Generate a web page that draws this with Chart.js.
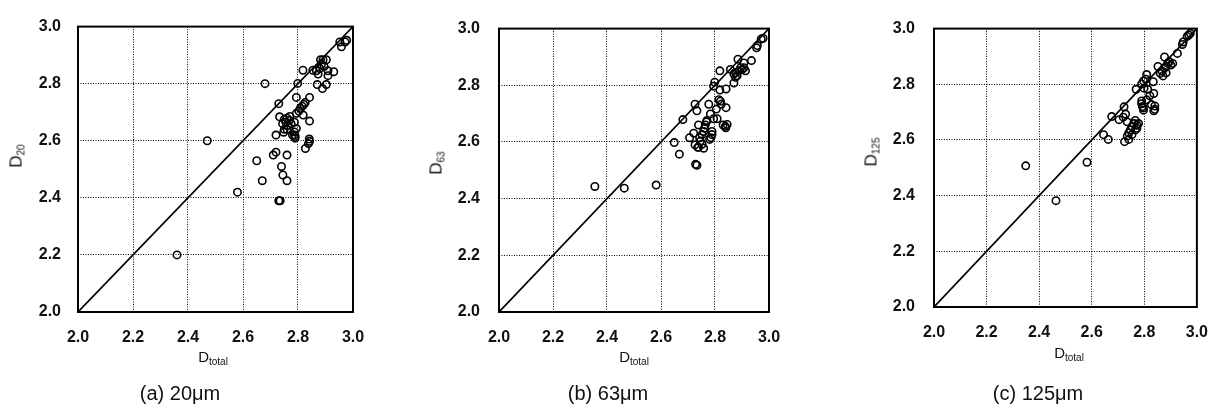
<!DOCTYPE html>
<html>
<head>
<meta charset="utf-8">
<script src="https://cdn.jsdelivr.net/npm/chart.js@4"></script>
<style>
  html, body { margin: 0; padding: 0; background: #fff; }
  #wrap { position: relative; width: 1224px; height: 414px; overflow: hidden; font-family: "Liberation Sans", Arial, sans-serif; color: #111; }
  .panel { position: absolute; top: 0; }
  .lbl { position: absolute; white-space: nowrap; transform: translate(-50%, -50%); line-height: 1; }
  .ytitle { font-size: 17px; transform: translate(-50%, -50%) rotate(-90deg); }
  .xtitle { font-size: 15px; }
  .lbl sub { font-size: 10px; vertical-align: -3px; }
  .caption { font-family: "Liberation Sans Narrow", "Liberation Sans", Arial, sans-serif; font-size: 20px; }
</style>
</head>
<body>
<div id="wrap">
  <div class="panel" style="left:0px"><canvas id="chart-a" width="400" height="350"></canvas></div>
  <div class="panel" style="left:410px"><canvas id="chart-b" width="400" height="350"></canvas></div>
  <div class="panel" style="left:820px"><canvas id="chart-c" width="404" height="350"></canvas></div>

  <div class="lbl ytitle" style="left:17px;top:156px">D<sub>20</sub></div>
  <div class="lbl xtitle" style="left:213px;top:358px">D<sub>total</sub></div>
  <div class="lbl caption" style="left:180px;top:393px">(a) 20μm</div>

  <div class="lbl ytitle" style="left:437px;top:163px">D<sub>63</sub></div>
  <div class="lbl xtitle" style="left:634px;top:358px">D<sub>total</sub></div>
  <div class="lbl caption" style="left:608px;top:393px">(b) 63μm</div>

  <div class="lbl ytitle" style="left:872px;top:152px">D<sub>125</sub></div>
  <div class="lbl xtitle" style="left:1069px;top:354px">D<sub>total</sub></div>
  <div class="lbl caption" style="left:1038px;top:393px">(c) 125μm</div>
</div>
<script>
// ─── Data ────────────────────────────────────────────────────────────────────
const TICKS = [2.0, 2.2, 2.4, 2.6, 2.8, 3.0];

// (a) 20um
const A_DTOTAL = [2.36, 2.47, 2.58, 2.68, 2.65, 2.67, 2.71, 2.72, 2.73, 2.735, 2.74, 2.745, 2.76, 2.76,
  2.73, 2.72, 2.744, 2.75, 2.756, 2.763, 2.748, 2.769, 2.775, 2.787, 2.733, 2.76, 2.77, 2.787, 2.787,
  2.789, 2.794, 2.794, 2.803, 2.808, 2.815, 2.821, 2.826, 2.819, 2.842, 2.842, 2.818, 2.794, 2.799,
  2.827, 2.838, 2.841, 2.842, 2.854, 2.867, 2.873, 2.879, 2.882, 2.891, 2.903, 2.87, 2.889, 2.903,
  2.909, 2.909, 2.93, 2.885, 2.895, 2.952, 2.958, 2.977, 2.971, 2.78, 2.79, 2.75, 2.76];
const A_D20 = [2.20, 2.60, 2.42, 2.80, 2.53, 2.46, 2.55, 2.56, 2.39, 2.39, 2.51, 2.48, 2.46, 2.55,
  2.73, 2.62, 2.66, 2.64, 2.665, 2.654, 2.63, 2.671, 2.66, 2.665, 2.684, 2.679, 2.685, 2.631, 2.62,
  2.609, 2.643, 2.696, 2.704, 2.713, 2.721, 2.727, 2.734, 2.69, 2.752, 2.669, 2.847, 2.752, 2.801,
  2.573, 2.59, 2.606, 2.598, 2.847, 2.845, 2.834, 2.853, 2.884, 2.884, 2.884, 2.797, 2.783, 2.797,
  2.845, 2.828, 2.842, 2.867, 2.86, 2.946, 2.929, 2.952, 2.946, 2.62, 2.615, 2.675, 2.64];

// (b) 63um
const B_DTOTAL = [2.355, 2.464, 2.582, 2.649, 2.668, 2.681, 2.706, 2.721, 2.726, 2.733, 2.726, 2.728,
  2.733, 2.739, 2.736, 2.743, 2.746, 2.752, 2.752, 2.758, 2.761, 2.764, 2.768, 2.77, 2.739, 2.758,
  2.785, 2.789, 2.789, 2.78, 2.777, 2.783, 2.795, 2.799, 2.795, 2.805, 2.808, 2.814, 2.82, 2.823,
  2.818, 2.818, 2.841, 2.841, 2.83, 2.838, 2.845, 2.84, 2.857, 2.87, 2.876, 2.882, 2.87, 2.888,
  2.895, 2.901, 2.907, 2.913, 2.907, 2.876, 2.885, 2.935, 2.957, 2.954, 2.971, 2.978];
const B_D63 = [2.443, 2.437, 2.448, 2.598, 2.557, 2.679, 2.615, 2.631, 2.733, 2.71, 2.59, 2.521,
  2.518, 2.66, 2.581, 2.615, 2.603, 2.626, 2.592, 2.637, 2.648, 2.66, 2.671, 2.676, 2.581, 2.578,
  2.615, 2.626, 2.637, 2.609, 2.733, 2.699, 2.682, 2.811, 2.797, 2.716, 2.682, 2.749, 2.744, 2.733,
  2.783, 2.851, 2.787, 2.721, 2.66, 2.655, 2.662, 2.65, 2.856, 2.808, 2.845, 2.834, 2.84, 2.851,
  2.862, 2.856, 2.862, 2.851, 2.879, 2.828, 2.892, 2.887, 2.94, 2.932, 2.963, 2.966];

// (c) 125um
const C_DTOTAL = [2.349, 2.464, 2.582, 2.645, 2.663, 2.676, 2.704, 2.72, 2.723, 2.729, 2.735, 2.725,
  2.735, 2.741, 2.747, 2.753, 2.76, 2.766, 2.772, 2.778, 2.741, 2.753, 2.766, 2.772, 2.769, 2.79,
  2.797, 2.809, 2.806, 2.813, 2.799, 2.821, 2.809, 2.797, 2.79, 2.79, 2.793, 2.796, 2.827, 2.836,
  2.834, 2.84, 2.84, 2.836, 2.852, 2.868, 2.877, 2.883, 2.889, 2.895, 2.901, 2.908, 2.871, 2.883,
  2.877, 2.861, 2.926, 2.945, 2.948, 2.963, 2.969, 2.975];
const C_D125 = [2.507, 2.382, 2.52, 2.619, 2.602, 2.684, 2.673, 2.682, 2.719, 2.693, 2.665, 2.594,
  2.614, 2.625, 2.636, 2.648, 2.659, 2.67, 2.653, 2.659, 2.602, 2.619, 2.636, 2.642, 2.782, 2.801,
  2.812, 2.835, 2.818, 2.782, 2.786, 2.759, 2.744, 2.707, 2.74, 2.73, 2.72, 2.715, 2.727, 2.767,
  2.809, 2.722, 2.71, 2.705, 2.864, 2.847, 2.858, 2.864, 2.875, 2.881, 2.869, 2.875, 2.83, 2.841,
  2.898, 2.839, 2.911, 2.943, 2.952, 2.972, 2.977, 2.983];

// 1:1 reference line
const LINE_X = [2.0, 3.0];
const LINE_Y = [2.0, 3.0];

// ─── Layout per panel (pixels inside each canvas) ────────────────────────────
const PANELS = [
  { id: 'chart-a', xs: A_DTOTAL, ys: A_D20,  top: 16, right: 47, yWidth: 78,  xHeight: 38, yPad: 17 },
  { id: 'chart-b', xs: B_DTOTAL, ys: B_D63,  top: 16, right: 41, yWidth: 89,  xHeight: 38, yPad: 19 },
  { id: 'chart-c', xs: C_DTOTAL, ys: C_D125, top: 13, right: 19, yWidth: 114, xHeight: 43, yPad: 19 },
];

// frame round the plot area
const framePlugin = {
  id: 'frame',
  afterDatasetsDraw(chart) {
    const { ctx, chartArea: a } = chart;
    ctx.save();
    ctx.strokeStyle = '#000';
    ctx.lineWidth = 2;
    ctx.strokeRect(a.left, a.top, a.right - a.left, a.bottom - a.top);
    ctx.restore();
  },
};

function zip(xs, ys) {
  return xs.map((x, i) => ({ x, y: ys[i] }));
}

const TICK_FONT = { family: '"Liberation Sans", Arial, sans-serif', size: 16, weight: 'bold' };

function axisOpts(extra) {
  return {
    type: 'linear',
    min: 2.0,
    max: 3.0,
    afterBuildTicks: s => { s.ticks = TICKS.map(v => ({ value: v })); },
    grid: { color: '#000', lineWidth: 1, drawTicks: false },
    border: { display: false, dash: [1, 1.5] },
    ...extra,
  };
}

function drawPanel(p) {
  new Chart(document.getElementById(p.id), {
    data: {
      datasets: [
        {
          type: 'line',
          data: zip(LINE_X, LINE_Y),
          borderColor: '#000',
          borderWidth: 1.7,
          pointRadius: 0,
          fill: false,
          order: 2,
        },
        {
          type: 'scatter',
          data: zip(p.xs, p.ys),
          pointStyle: 'circle',
          pointRadius: 3.7,
          borderWidth: 1.6,
          borderColor: '#000',
          backgroundColor: 'rgba(0,0,0,0)',
          order: 1,
        },
      ],
    },
    options: {
      responsive: false,
      animation: false,
      layout: { padding: { top: p.top, right: p.right, left: 0, bottom: 0 } },
      plugins: { legend: { display: false }, tooltip: { enabled: false } },
      scales: {
        x: axisOpts({
          position: 'bottom',
          afterFit: s => { s.height = p.xHeight; },
          ticks: { color: '#111', font: TICK_FONT, padding: 16, maxRotation: 0, callback: v => Number(v).toFixed(1) },
        }),
        y: axisOpts({
          position: 'left',
          afterFit: s => { s.width = p.yWidth; },
          ticks: { color: '#111', font: TICK_FONT, padding: p.yPad, callback: v => Number(v).toFixed(1) },
        }),
      },
    },
    plugins: [framePlugin],
  });
}

PANELS.forEach(drawPanel);
</script>
</body>
</html>
